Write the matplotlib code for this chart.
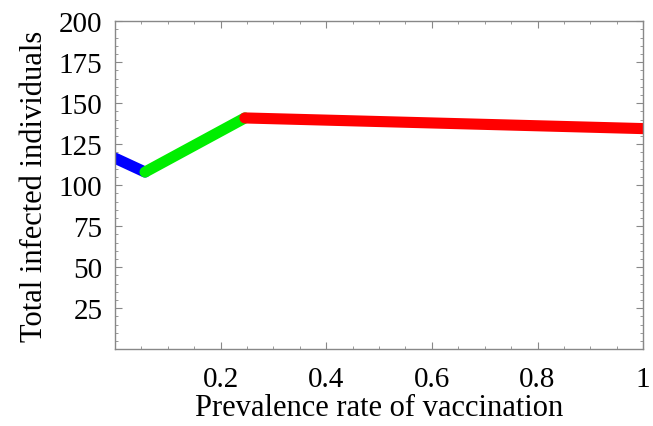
import matplotlib.pyplot as plt
from matplotlib.ticker import MultipleLocator

plt.rcParams['font.family'] = ['Liberation Serif', 'DejaVu Serif']

# piecewise segments of the curve
blue_x = [0.0, 0.057]
blue_y = [116.5, 108.0]
green_x = [0.057, 0.246]
green_y = [108.0, 141.0]
red_x = [0.246, 1.0]
red_y = [141.0, 134.5]

x_ticks = [0.2, 0.4, 0.6, 0.8, 1.0]
x_labels = ["0.2", "0.4", "0.6", "0.8", "1"]
y_ticks = [25, 50, 75, 100, 125, 150, 175, 200]

fig = plt.figure(figsize=(6.53, 4.27), dpi=100)
ax = fig.add_axes([0.176, 0.180, 0.809, 0.768])

ax.plot(blue_x, blue_y, color="#0000ff", lw=8, solid_capstyle="round")
ax.plot(green_x, green_y, color="#00ee00", lw=8, solid_capstyle="round")
ax.plot(red_x, red_y, color="#ff0000", lw=8, solid_capstyle="round")

ax.set_xlim(0, 1)
ax.set_ylim(0, 200)
ax.set_xticks(x_ticks)
ax.set_xticklabels(x_labels)
ax.set_yticks(y_ticks)
ax.xaxis.set_minor_locator(MultipleLocator(0.05))
ax.yaxis.set_minor_locator(MultipleLocator(5))

for s in ax.spines.values():
    s.set_color("#888888")
    s.set_linewidth(1.0)
ax.tick_params(which="both", direction="in", top=True, right=True,
               color="#888888", labelsize=21)
ax.tick_params(which="major", length=5, width=0.8)
ax.tick_params(axis="x", which="major", pad=12)
ax.tick_params(axis="y", which="major", pad=9)
ax.tick_params(which="minor", length=2.5, width=0.6)

ax.set_xlabel("Prevalence rate of vaccination", fontsize=22, labelpad=1)
ax.set_ylabel("Total infected individuals", fontsize=22)
ax.yaxis.set_label_coords(-0.125, 0.5)

fig.savefig("out.png", dpi=100)
